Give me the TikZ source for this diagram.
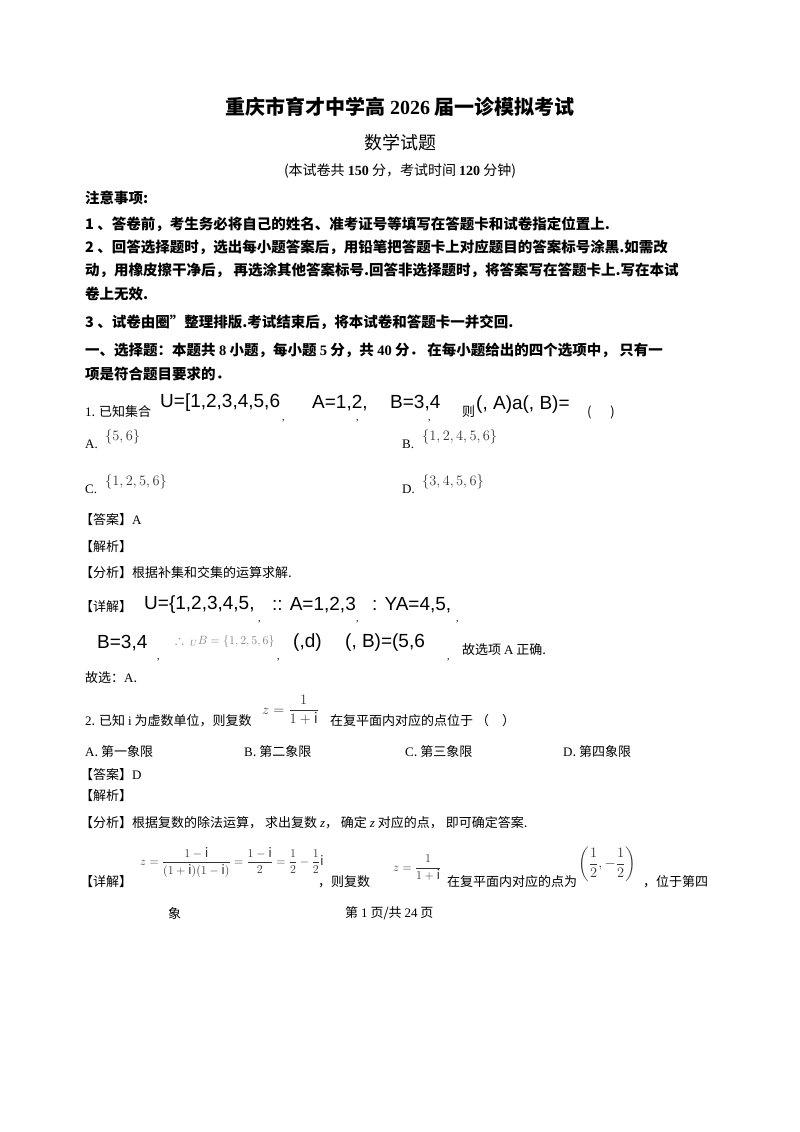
\documentclass[tikz,border=0pt]{standalone}
\usepackage{amsmath,amssymb}
\usepackage{fontspec}
\setmainfont{Noto Sans CJK SC}
\newfontfamily\tnr{Liberation Serif}
\newfontfamily\ari{Liberation Sans}
\begin{document}
\begin{tikzpicture}[x=1pt,y=-1pt,
  t/.style={anchor=west,inner sep=0pt,font=\fontsize{14.5}{17}\selectfont},
  tb/.style={t,font=\fontsize{14.5}{17}\selectfont\bfseries},
  big/.style={anchor=west,inner sep=0pt,font=\ari\fontsize{19}{22}\selectfont},
  mth/.style={anchor=west,inner sep=0pt,text=black!80,font=\fontsize{14.5}{17}\selectfont}]
\useasboundingbox[fill=white] (0,0) rectangle (800,1132);
\node[inner sep=0pt,font=\fontsize{20}{24}\selectfont\bfseries] (title) at (400,107) {重庆市育才中学高 {\tnr\bfseries 2026} 届一诊模拟考试};
\node[inner sep=0pt,font=\fontsize{18}{22}\selectfont] (sub) at (400,143) {数学试题};
\node[inner sep=0pt,font=\fontsize{14}{17}\selectfont] (info) at (400,171) {(本试卷共 {\tnr\bfseries 150} 分，考试时间 {\tnr\bfseries 120} 分钟)};
\node[tb] (n0) at (85,198) {注意事项:};
\node[tb] (n1) at (85,224) {1 、答卷前，考生务必将自己的姓名、准考证号等填写在答题卡和试卷指定位置上.};
\node[tb] (n2a) at (85,247) {2 、回答选择题时，选出每小题答案后，用铅笔把答题卡上对应题目的答案标号涂黑.如需改};
\node[tb] (n2b) at (85,270) {动，用橡皮擦干净后， 再选涂其他答案标号.回答非选择题时，将答案写在答题卡上.写在本试};
\node[tb] (n2c) at (85,294) {卷上无效.};
\node[tb] (n3) at (85,322) {3 、试卷由圈"整理排版.考试结束后，将本试卷和答题卡一并交回.};
\node[tb] (s1a) at (85,350) {一、选择题：本题共 {\tnr\bfseries 8} 小题，每小题 {\tnr\bfseries 5} 分，共 {\tnr\bfseries 40} 分． 在每小题给出的四个选项中， 只有一};
\node[tb] (s1b) at (85,374) {项是符合题目要求的．};
% Q1
\node[t,font=\fontsize{13}{15}\selectfont] (q1) at (85,412) {{\tnr 1}. 已知集合};
\node[big] (q1u) at (160,403) {U=[1,2,3,4,5,6};
\node[big] (q1a) at (312,403) {A=1,2,};
\node[big] (q1b) at (390,403) {B=3,4};
\node[t,font=\fontsize{13}{15}\selectfont] (q1z) at (462,412) {则};
\node[big] (q1c) at (476,405) {(, A)a(, B)=};
\node[t,font=\fontsize{13}{15}\selectfont] (q1p) at (587,412) {(\quad\ \ )};
\node[anchor=west,inner sep=0pt] (c1) at (282,421) {\tnr ,};
\node[anchor=west,inner sep=0pt] (c2) at (356,421) {\tnr ,};
\node[anchor=west,inner sep=0pt] (c3) at (428,421) {\tnr ,};
\node[t,font=\tnr\fontsize{13}{15}\selectfont] (oA) at (85,444) {A.};
\node[mth] (oAm) at (105,437) {$\{5,6\}$};
\node[t,font=\tnr\fontsize{13}{15}\selectfont] (oB) at (402,444) {B.};
\node[mth] (oBm) at (422,437) {$\{1,2,4,5,6\}$};
\node[t,font=\tnr\fontsize{13}{15}\selectfont] (oC) at (85,489) {C.};
\node[mth] (oCm) at (105,482) {$\{1,2,5,6\}$};
\node[t,font=\tnr\fontsize{13}{15}\selectfont] (oD) at (402,489) {D.};
\node[mth] (oDm) at (422,482) {$\{3,4,5,6\}$};
\node[t,font=\fontsize{13}{15}\selectfont] (ans1) at (80,520) {【答案】{\tnr A}};
\node[t,font=\fontsize{13}{15}\selectfont] (jx1) at (80,547) {【解析】};
\node[t,font=\fontsize{13}{15}\selectfont] (fx1) at (80,573) {【分析】根据补集和交集的运算求解.};
\node[t,font=\fontsize{13}{15}\selectfont] (xj1) at (80,607) {【详解】};
\node[big] (xj1a) at (144,605) {U=\{1,2,3,4,5,};
\node[big] (xj1b) at (272,605) {:: A=1,2,3};
\node[big] (xj1c) at (372,605) {: YA=4,5,};
\node[anchor=west,inner sep=0pt] (c4) at (258,622) {\tnr ,};
\node[anchor=west,inner sep=0pt] (c5) at (356,622) {\tnr ,};
\node[anchor=west,inner sep=0pt] (c6) at (456,622) {\tnr ,};
\node[big] (xj1d) at (97,643) {B=3,4};
\node[anchor=west,inner sep=0pt] (c7) at (157,660) {\tnr ,};
\node[mth,text=black!50,font=\fontsize{13}{15}\selectfont] (xj1e) at (175,641) {$\therefore\ {}_{U}B=\{1,2,5,6\}$};
\node[anchor=west,inner sep=0pt] (c8) at (277,660) {\tnr ,};
\node[big] (xj1f) at (293,643) {(,d)};
\node[big] (xj1g) at (345,643) {(, B)=(5,6};
\node[anchor=west,inner sep=0pt] (c9) at (447,660) {\tnr ,};
\node[t,font=\fontsize{13}{15}\selectfont] (xj1h) at (462,650) {故选项 {\tnr A} 正确.};
\node[t,font=\fontsize{13}{15}\selectfont] (gx1) at (85,678) {故选：{\tnr A}.};
% Q2
\node[t,font=\fontsize{13}{15}\selectfont] (q2) at (85,721) {{\tnr 2}. 已知 {\tnr i} 为虚数单位，则复数};
\node[mth] (q2m) at (262,710) {$z=\dfrac{1}{1+\mathrm{i}}$};
\node[t,font=\fontsize{13}{15}\selectfont] (q2b) at (330,721) {在复平面内对应的点位于 （\quad ）};
\node[t,font=\fontsize{13}{15}\selectfont] (q2A) at (85,752) {{\tnr A}. 第一象限};
\node[t,font=\fontsize{13}{15}\selectfont] (q2B) at (244,752) {{\tnr B}. 第二象限};
\node[t,font=\fontsize{13}{15}\selectfont] (q2C) at (405,752) {{\tnr C}. 第三象限};
\node[t,font=\fontsize{13}{15}\selectfont] (q2D) at (563,752) {{\tnr D}. 第四象限};
\node[t,font=\fontsize{13}{15}\selectfont] (ans2) at (80,775) {【答案】{\tnr D}};
\node[t,font=\fontsize{13}{15}\selectfont] (jx2) at (80,796) {【解析】};
\node[t,font=\fontsize{13}{15}\selectfont] (fx2) at (80,823) {【分析】根据复数的除法运算， 求出复数 {\tnr\itshape z}， 确定 {\tnr\itshape z} 对应的点， 即可确定答案.};
\node[t,font=\fontsize{13}{15}\selectfont] (xj2) at (80,882) {【详解】};
\node[mth,font=\fontsize{13}{15}\selectfont] (xj2m) at (140,862) {$z=\dfrac{1-\mathrm{i}}{(1+\mathrm{i})(1-\mathrm{i})}=\dfrac{1-\mathrm{i}}{2}=\dfrac{1}{2}-\dfrac{1}{2}\mathrm{i}$};
\node[t,font=\fontsize{13}{15}\selectfont] (xj2b) at (318,882) {，则复数};
\node[mth,font=\fontsize{13}{15}\selectfont] (xj2c) at (393,868) {$z=\dfrac{1}{1+\mathrm{i}}$};
\node[t,font=\fontsize{13}{15}\selectfont] (xj2d) at (447,882) {在复平面内对应的点为};
\node[mth] (xj2e) at (578,864) {$\left(\dfrac{1}{2},-\dfrac{1}{2}\right)$};
\node[t,font=\fontsize{13}{15}\selectfont] (xj2f) at (643,882) {，位于第四};
\node[t,font=\fontsize{13}{15}\selectfont] (xj2g) at (168,913) {象};
\node[t,font=\fontsize{13}{15}\selectfont] (foot) at (345,913) {第 {\tnr 1} 页/共 {\tnr 24} 页};
\end{tikzpicture}
\end{document}
